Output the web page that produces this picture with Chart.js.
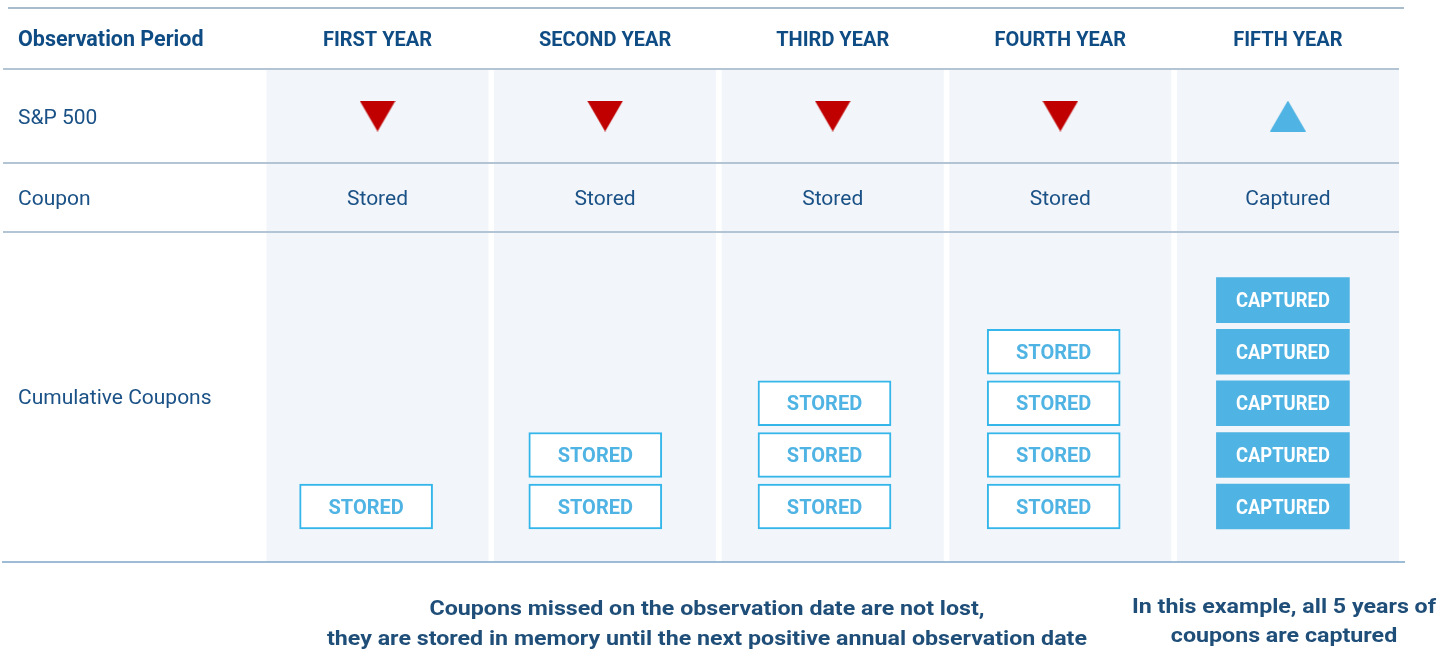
<!DOCTYPE html>
<html lang="en">
<head>
<meta charset="UTF-8">
<title>Memory coupon example</title>
<script src="https://cdn.jsdelivr.net/npm/chart.js"></script>
<style>
  html, body { margin: 0; padding: 0; background: #fff; }
  #wrap { width: 1442px; height: 666px; position: relative; }
</style>
</head>
<body>
<div id="wrap"><canvas id="chart"></canvas></div>
<script>
// data
const years = ['FIRST YEAR', 'SECOND YEAR', 'THIRD YEAR', 'FOURTH YEAR', 'FIFTH YEAR'];
const spMove = ['down', 'down', 'down', 'down', 'up'];
const couponStatus = ['Stored', 'Stored', 'Stored', 'Stored', 'Captured'];
const cumulativeCoupons = [1, 2, 3, 4, 5];
const rowLabels = ['Observation Period', 'S&P 500', 'Coupon', 'Cumulative Coupons'];
const noteLeft = ['Coupons missed on the observation date are not lost,',
                  'they are stored in memory until the next positive annual observation date'];
const noteRight = ['In this example, all 5 years of', 'coupons are captured'];

// layout
const ROW_EDGES = [8, 69, 163, 232, 562];
const BAND_W = 222;
const BOX_H = 0.87;
const NAVY = '#0f4c84';
const TEXT = '#1a5186';
const SKY = '#4fb3e3';
const EDGE = '#35b6ea';

function triangle(up, color) {
    const c = document.createElement('canvas');
    c.width = 36; c.height = 31;
    const g = c.getContext('2d');
    g.fillStyle = color;
    g.beginPath();
    if (up) { g.moveTo(18, 0); g.lineTo(36, 31); g.lineTo(0, 31); }
    else { g.moveTo(0, 0); g.lineTo(36, 0); g.lineTo(18, 31); }
    g.closePath();
    g.fill();
    return c;
}
const upMark = triangle(true, SKY);
const downMark = triangle(false, '#c00000');

const levels = Math.max(...cumulativeCoupons);
const boxSets = [];
for (let k = 0; k < levels; k++) {
    boxSets.push({
        type: 'bar',
        label: 'level ' + (k + 1),
        data: cumulativeCoupons.map(n => n > k ? [k, k + BOX_H] : null),
        backgroundColor: couponStatus.map(s => s === 'Captured' ? SKY : '#ffffff'),
        borderColor: EDGE,
        borderWidth: couponStatus.map(s => s === 'Captured' ? 0 : 2),
        borderSkipped: false,
        grouped: false,
        barThickness: 133,
        xAxisID: 'x',
        yAxisID: 'y'
    });
}

function fitted(ctx, text, cx, cy, sx) {
    ctx.save();
    ctx.translate(cx, cy);
    ctx.scale(sx, 1);
    ctx.fillText(text, 0, 0);
    ctx.restore();
}

const tablePlugin = {
    id: 'table',
    beforeDatasetsDraw(chart) {
        const {ctx, scales: {xRow}} = chart;
        ctx.save();
        // column bands
        ctx.fillStyle = '#f2f5f9';
        years.forEach((_, i) => {
            const cx = xRow.getPixelForValue(i);
            ctx.fillRect(cx - BAND_W / 2, ROW_EDGES[1], BAND_W, ROW_EDGES[4] - ROW_EDGES[1]);
        });
        // rules
        ctx.lineWidth = 2;
        ctx.strokeStyle = '#a9bccb';
        ctx.beginPath(); ctx.moveTo(8, ROW_EDGES[0]); ctx.lineTo(1404, ROW_EDGES[0]); ctx.stroke();
        ctx.strokeStyle = '#b3c5d4';
        [1, 2, 3].forEach(r => {
            ctx.beginPath(); ctx.moveTo(3, ROW_EDGES[r]); ctx.lineTo(1399, ROW_EDGES[r]); ctx.stroke();
        });
        ctx.lineWidth = 1.5;
        ctx.strokeStyle = '#7ea6c9';
        ctx.beginPath(); ctx.moveTo(2, ROW_EDGES[4]); ctx.lineTo(1405, ROW_EDGES[4]); ctx.stroke();

        // header and row texts
        ctx.textBaseline = 'middle';
        ctx.fillStyle = NAVY;
        ctx.font = 'bold 21.5px Roboto';
        ctx.textAlign = 'left';
        ctx.fillText(rowLabels[0], 18, 41);
        ctx.font = 'bold 20px Roboto';
        ctx.textAlign = 'center';
        years.forEach((y, i) => ctx.fillText(y, xRow.getPixelForValue(i), 41));
        ctx.fillStyle = TEXT;
        ctx.font = '21px Roboto';
        ctx.textAlign = 'left';
        ctx.fillText(rowLabels[1], 18, 119);
        ctx.fillText(rowLabels[2], 18, 200);
        ctx.fillText(rowLabels[3], 18, 399);
        ctx.textAlign = 'center';
        couponStatus.forEach((s, i) => ctx.fillText(s, xRow.getPixelForValue(i), 200));

        // notes, narrowed to the reference line length
        ctx.fillStyle = '#1f4e79';
        ctx.font = 'bold 21px Roboto';
        const sx = 760 / ctx.measureText(noteLeft[1]).width;
        fitted(ctx, noteLeft[0], 707, 610, sx);
        fitted(ctx, noteLeft[1], 707, 640, sx);
        fitted(ctx, noteRight[0], 1284, 608, sx);
        fitted(ctx, noteRight[1], 1284, 637, sx);
        ctx.restore();
    },
    afterDatasetsDraw(chart) {
        const {ctx} = chart;
        ctx.save();
        ctx.textAlign = 'center';
        ctx.textBaseline = 'middle';
        ctx.font = 'bold 20px Roboto';
        chart.data.datasets.forEach((ds, d) => {
            if (ds.type !== 'bar') return;
            chart.getDatasetMeta(d).data.forEach((bar, i) => {
                if (ds.data[i] == null) return;
                const st = couponStatus[i];
                const captured = st === 'Captured';
                ctx.fillStyle = captured ? '#ffffff' : SKY;
                fitted(ctx, st.toUpperCase(), bar.x, (bar.y + bar.base) / 2 + 2, captured ? 0.92 : 1);
            });
        });
        ctx.restore();
    }
};

new Chart(document.getElementById('chart'), {
    data: {
        labels: years,
        datasets: [
            ...boxSets,
            {
                type: 'line',
                label: 'S&P 500',
                data: spMove.map((_, i) => ({x: i, y: (ROW_EDGES[1] + ROW_EDGES[2]) / 2})),
                showLine: false,
                pointStyle: spMove.map(m => m === 'up' ? upMark : downMark),
                pointRadius: 18,
                pointHoverRadius: 18,
                xAxisID: 'xRow',
                yAxisID: 'yRow'
            }
        ]
    },
    options: {
        responsive: true,
        maintainAspectRatio: false,
        animation: false,
        layout: { padding: { left: 251.5, right: 44.5, top: ROW_EDGES[1], bottom: 666 - ROW_EDGES[4] } },
        plugins: { legend: { display: false }, tooltip: { enabled: false } },
        scales: {
            x: { type: 'category', display: false, offset: true, grid: { display: false } },
            xRow: { type: 'linear', display: false, min: -0.5536, max: 4.4814 },
            y: { type: 'linear', display: false, min: -0.64, max: 8.914 },
            yRow: { type: 'linear', display: false, reverse: true, min: ROW_EDGES[1], max: ROW_EDGES[4] }
        }
    },
    plugins: [tablePlugin]
});
</script>
</body>
</html>
